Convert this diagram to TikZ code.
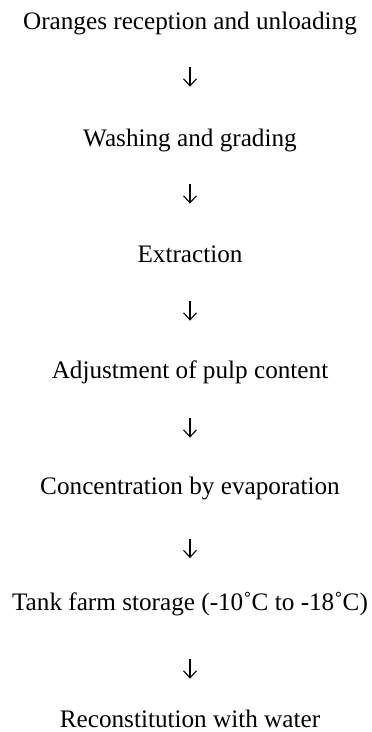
\documentclass[tikz,border=0pt]{standalone}
\usepackage{fontspec}
\setmainfont{Liberation Serif}
\usetikzlibrary{arrows.meta}
\tikzset{
  stage/.style={font=\fontsize{12.6}{15}\selectfont, inner sep=0pt, anchor=base,
                text height=8.5pt, text depth=0pt},
  flow/.style={-{Straight Barb[length=3.5pt,width=6.5pt]}, line width=0.55pt}
}
\begin{document}
\begin{tikzpicture}[x=0.5pt,y=-0.5pt]
\useasboundingbox (0,0) rectangle (371,732);
\node[stage] (s1) at (190,30) {Oranges reception and unloading};
\node[stage] (s2) at (190,146.17) {Washing and grading};
\node[stage] (s3) at (190,262.33) {Extraction};
\node[stage] (s4) at (190,378.5) {Adjustment of pulp content};
\node[stage] (s5) at (190,494.67) {Concentration by evaporation};
\node[stage] (s6) at (190,610.83) {Tank farm storage (-10˚C to -18˚C)};
\node[stage] (s7) at (190,727) {Reconstitution with water};
\draw[flow, shorten <=18.5pt,  shorten >=21.08pt] (s1.south) -- (s2.north);
\draw[flow, shorten <=18.92pt, shorten >=20.67pt] (s2.south) -- (s3.north);
\draw[flow, shorten <=19.33pt, shorten >=20.25pt] (s3.south) -- (s4.north);
\draw[flow, shorten <=19.75pt, shorten >=19.83pt] (s4.south) -- (s5.north);
\draw[flow, shorten <=21.92pt, shorten >=17.67pt] (s5.south) -- (s6.north);
\draw[flow, shorten <=24.08pt, shorten >=15.5pt]  (s6.south) -- (s7.north);
\end{tikzpicture}
\end{document}
